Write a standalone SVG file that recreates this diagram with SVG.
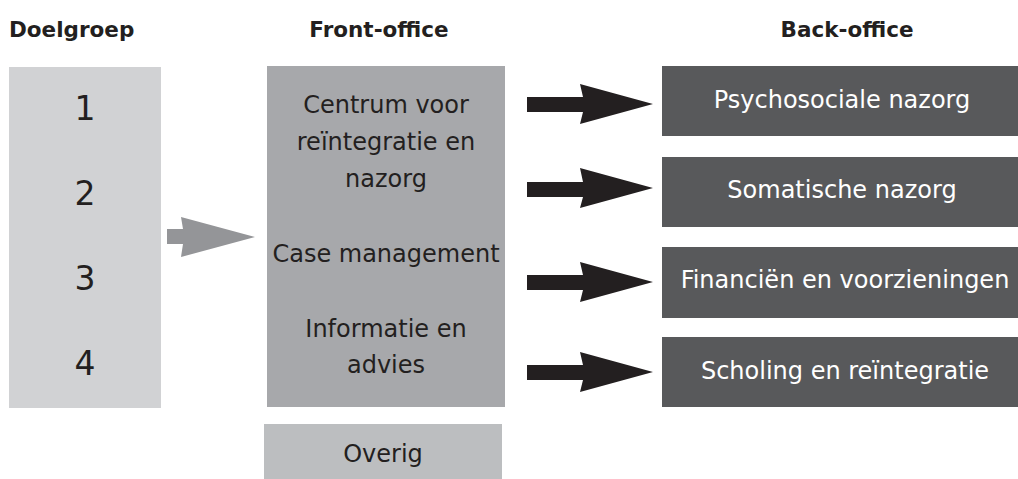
<svg xmlns="http://www.w3.org/2000/svg" width="1018" height="479" viewBox="0 0 1018 479">
<style>
text{font-family:"DejaVu Sans","Liberation Sans",sans-serif;fill:#231f20}
.h{font-weight:bold;font-size:21.5px}
.num{font-size:33px;text-anchor:middle}
.fo{font-size:24px;text-anchor:middle}
.bo{font-size:24px;text-anchor:middle;fill:#ffffff}
.blk{fill:#231f20}
</style>
<g id="headers">
<text class="h" x="9" y="37">Doelgroep</text>
<text class="h" x="379" y="37" text-anchor="middle">Front-office</text>
<text class="h" x="847" y="37" text-anchor="middle">Back-office</text>
</g>
<g id="doelgroep">
<rect x="9" y="67" width="152" height="341" fill="#d1d2d4"/>
<text class="num" x="85" y="120">1</text>
<text class="num" x="85" y="205">2</text>
<text class="num" x="85" y="290">3</text>
<text class="num" x="85" y="375">4</text>
</g>
<g id="frontoffice">
<rect x="267" y="66" width="238" height="341" fill="#a7a8ab"/>
<text class="fo" x="386" y="113">Centrum voor</text>
<text class="fo" x="386" y="150">reïntegratie en</text>
<text class="fo" x="386" y="187">nazorg</text>
<text class="fo" x="386" y="262">Case management</text>
<text class="fo" x="386" y="337">Informatie en</text>
<text class="fo" x="386" y="373">advies</text>
</g>
<g id="overig">
<rect x="264" y="424" width="238" height="55" fill="#bcbec0"/>
<text class="fo" x="383" y="462">Overig</text>
</g>
<g id="bo1">
<rect x="662" y="66" width="356" height="70" fill="#58595b"/>
<text class="bo" x="842" y="108">Psychosociale nazorg</text>
</g>
<g id="bo2">
<rect x="662" y="157" width="356" height="70" fill="#58595b"/>
<text class="bo" x="842" y="198">Somatische nazorg</text>
</g>
<g id="bo3">
<rect x="662" y="247" width="356" height="71" fill="#58595b"/>
<text class="bo" x="845" y="288">Financiën en voorzieningen</text>
</g>
<g id="bo4">
<rect x="662" y="337" width="356" height="70" fill="#58595b"/>
<text class="bo" x="845" y="379">Scholing en reïntegratie</text>
</g>
<g id="connectors">
<polygon points="167,229 183,229 181,217 255,237 181,257 183,244 167,244" fill="#949598"/>
<polygon class="blk" points="527,97 583,97 580,84 653,104 580,124 583,112 527,112"/>
<polygon class="blk" points="527,182 583,182 580,168 653,188 580,208 583,197 527,197"/>
<polygon class="blk" points="527,275 583,275 580,262 653,282 580,302 583,290 527,290"/>
<polygon class="blk" points="527,365 583,365 580,352 653,372 580,392 583,380 527,380"/>
</g>
</svg>
